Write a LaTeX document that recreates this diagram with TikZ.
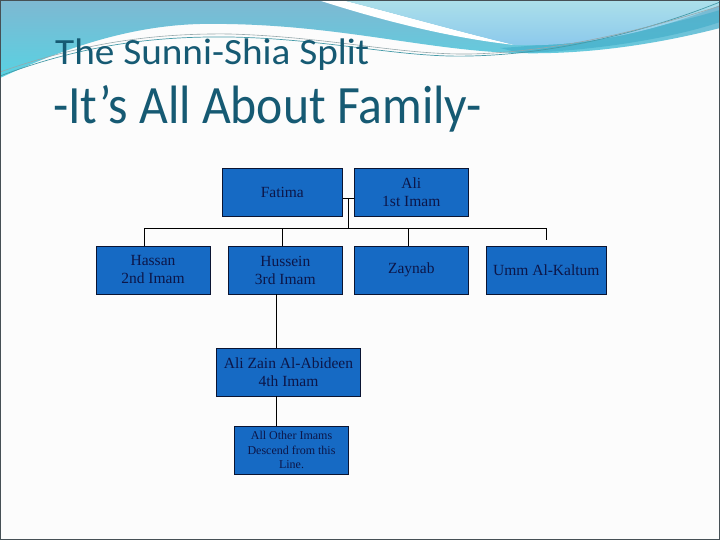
\documentclass[tikz,border=0pt]{standalone}
\usepackage{fontspec}
\setmainfont{Liberation Serif}
\newfontfamily\titlefont{Carlito}
\definecolor{boxfill}{RGB}{22,106,196}
\definecolor{boxtext}{RGB}{12,22,72}
\definecolor{boxline}{RGB}{10,20,50}
\definecolor{titlecol}{RGB}{22,90,115}
\definecolor{bandtop}{RGB}{126,184,210}
\definecolor{bandbot}{RGB}{88,210,226}
\definecolor{lighttop}{RGB}{172,224,234}
\definecolor{lightbot}{RGB}{138,200,236}
\definecolor{tealdark}{RGB}{62,172,200}
\definecolor{thinteal}{RGB}{70,155,168}
\definecolor{thingray}{RGB}{150,168,172}
\definecolor{framecol}{RGB}{70,80,85}
\begin{document}
\begin{tikzpicture}[x=1bp,y=-1bp,
  famboxwide/.style={draw=boxline,line width=0.8bp,fill=boxfill,text=boxtext,
    align=center,inner sep=0pt,font=\fontsize{15.5bp}{18bp}\selectfont},
  famboxsmall/.style={famboxwide,font=\fontsize{12bp}{14.3bp}\selectfont},
  link/.style={draw=black,line width=0.9bp},
  titletext/.style={anchor=base west,inner sep=0pt,text=titlecol}]
\useasboundingbox (0,0) rectangle (720,540);
\fill[white!98!gray] (0,0) rectangle (720,540);
% top wave
\shade[top color=bandtop,bottom color=bandbot]
  (0,0) -- (720,0) -- (720,28) .. controls (650,46) and (580,55) .. (515,53)
  .. controls (420,50) and (330,22) .. (200,24) .. controls (120,26) and (50,55) .. (0,78) -- cycle;
\fill[tealdark,opacity=0.6]
  (500,48) .. controls (600,42) and (680,22) .. (720,10) -- (720,22)
  .. controls (680,36) and (600,51) .. (520,53) -- cycle;
\fill[white]
  (318,0) .. controls (380,20) and (450,38) .. (515,45) .. controls (460,32) and (390,12) .. (342,0) -- cycle;
\shade[top color=lighttop,bottom color=lightbot]
  (342,0) .. controls (390,12) and (460,32) .. (515,45)
  .. controls (600,48) and (680,22) .. (720,5) -- (720,0) -- cycle;
\draw[thinteal,line width=0.7bp]
  (0,76) .. controls (80,46) and (150,36) .. (230,37) .. controls (330,39) and (400,58) .. (470,56)
  .. controls (560,54) and (650,30) .. (720,2);
\draw[thingray,line width=0.6bp]
  (0,72) .. controls (80,44) and (150,33) .. (230,34) .. controls (330,37) and (400,55) .. (470,54)
  .. controls (560,52) and (650,28) .. (720,6);
\draw[framecol,line width=1bp] (0.5,0.5) rectangle (719.5,539.5);
% titles
\node[titletext,font=\titlefont\fontsize{37bp}{40bp}\selectfont] (title1) at (55,65)
  {\scalebox{1.06}[1]{The Sunni-Shia Split}};
\node[titletext,font=\titlefont\fontsize{54bp}{58bp}\selectfont] (title2) at (53,124)
  {\scalebox{0.92}[1]{-It’s All About Family-}};
% family boxes
\node[famboxwide,minimum width=120bp,minimum height=48bp] (fatima) at (282.3,192.2) {Fatima};
\node[famboxwide,minimum width=114bp,minimum height=48bp] (ali) at (411.3,192.2) {Ali\\1st Imam};
\node[famboxwide,minimum width=114bp,minimum height=48bp] (hassan) at (153,270) {Hassan\\2nd Imam};
\node[famboxwide,minimum width=114bp,minimum height=48bp] (hussein) at (285.3,270) {Hussein\\3rd Imam};
\node[famboxwide,minimum width=114bp,minimum height=48bp] (zaynab) at (411.3,270) {Zaynab};
\node[famboxwide,minimum width=120.7bp,minimum height=48bp] (umm) at (546.3,270) {Umm Al-Kaltum};
\node[famboxwide,minimum width=143.6bp,minimum height=47.3bp] (zain) at (288.5,372.3) {Ali Zain Al-Abideen\\4th Imam};
\node[famboxsmall,minimum width=113.6bp,minimum height=47.7bp] (other) at (291.5,450.2) {All Other Imams\\Descend from this\\Line.};
% connectors
\coordinate (j) at (348.3,198.3);
\coordinate (bus) at (348.3,228.3);
\coordinate (bh) at (144.3,228.3);
\coordinate (bs) at (282.3,228.3);
\coordinate (bz) at (408.3,228.3);
\coordinate (bu) at (546.7,228.3);
\coordinate (down) at (276.7,300);
\draw[link] (fatima.east |- j) -- (ali.west |- j);
\draw[link] (j) -- (bus);
\draw[link] (bh) -- (bu);
\draw[link] (bh) -- (hassan.north -| bh);
\draw[link] (bs) -- (hussein.north -| bs);
\draw[link] (bz) -- (zaynab.north -| bz);
\draw[link] (bu) -- ([yshift=5.5bp]umm.north -| bu);
\draw[link] (hussein.south -| down) -- (zain.north -| down);
\draw[link] (zain.south -| down) -- (other.north -| down);
\end{tikzpicture}
\end{document}
